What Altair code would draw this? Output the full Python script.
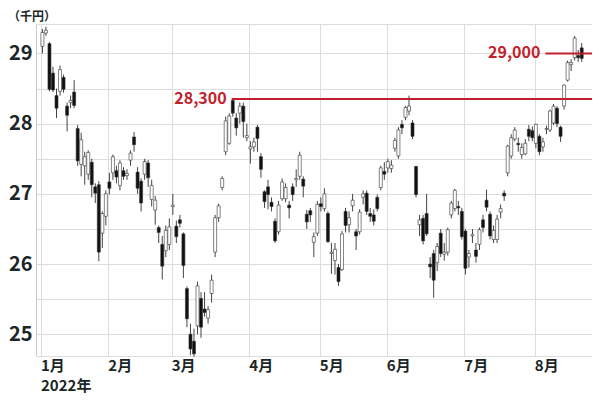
import altair as alt
import pandas as pd

# ---- candle data (thousand yen), one entry per trading day ----
opens = [29.10, 29.29, 29.14, 28.72, 28.40, 28.46, 28.66, 28.25, 28.30, 28.45,
         27.93, 27.42, 27.40, 27.28, 27.45, 27.10, 27.13, 26.44, 26.68, 27.17,
         27.30, 27.33, 27.12, 27.33, 27.26, 27.48, 27.81, 27.31, 27.18, 27.28,
         27.44, 26.92, 26.77, 26.52, 26.28, 26.19, 26.28, 26.82, 26.54, 26.63,
         26.43, 25.65, 25.00, 24.90, 25.12, 25.51, 25.36, 25.23, 25.58, 26.17,
         26.66, 27.09, 27.60, 27.72, 28.33, 28.08, 28.15, 28.25, 27.80, 27.64,
         27.67, 27.95, 27.53, 27.03, 27.10, 26.88, 26.61, 26.46, 26.93, 26.93,
         26.84, 27.10, 27.20, 27.25, 27.21, 26.71, 26.76, 26.31, 26.44, 26.86,
         26.79, 26.72, 26.15, 26.05, 25.95, 25.92, 26.75, 26.56, 26.83, 26.46,
         26.46, 26.95, 27.01, 26.72, 26.70, 26.95, 27.09, 27.32, 27.37, 27.36,
         27.65, 27.54, 27.99, 28.09, 28.18, 28.01, 27.39, 26.56, 26.65, 26.72,
         26.00, 26.15, 26.02, 26.44, 26.14, 26.17, 26.70, 26.79, 26.82, 26.75,
         26.47, 26.10, 26.40, 26.20, 26.28, 26.63, 26.91, 26.71, 26.35, 26.35,
         26.74, 27.01, 27.30, 27.54, 27.78, 27.72, 27.56, 27.57, 27.92, 27.90,
         27.72, 27.82, 27.67, 27.92, 27.91, 28.01, 28.22, 27.95, 28.25, 28.62,
         28.84, 28.94, 28.97, 29.08]
highs = [29.35, 29.38, 29.16, 28.81, 28.50, 28.83, 28.70, 28.30, 28.40, 28.62,
         27.98, 27.87, 27.60, 27.62, 27.50, 27.15, 27.18, 26.75, 27.05, 27.30,
         27.56, 27.40, 27.48, 27.38, 27.35, 27.62, 27.88, 27.38, 27.22, 27.50,
         27.48, 27.20, 26.97, 26.55, 26.40, 26.55, 26.65, 27.00, 26.62, 26.70,
         26.45, 25.68, 25.15, 25.08, 25.75, 25.60, 25.60, 25.40, 25.85, 26.70,
         26.86, 27.25, 28.10, 28.15, 28.36, 28.15, 28.30, 28.30, 28.00, 27.75,
         27.80, 27.98, 27.58, 27.05, 27.20, 26.95, 26.65, 26.90, 27.22, 27.15,
         26.90, 27.15, 27.35, 27.60, 27.25, 26.77, 26.80, 26.45, 26.90, 26.95,
         27.08, 26.75, 26.30, 26.30, 26.00, 26.47, 26.80, 26.75, 27.00, 26.50,
         26.78, 27.05, 27.05, 26.80, 26.78, 26.99, 27.40, 27.45, 27.50, 27.48,
         27.80, 27.95, 28.05, 28.25, 28.40, 28.05, 27.40, 26.70, 26.70, 27.00,
         26.10, 26.20, 26.30, 26.50, 26.30, 26.52, 26.90, 27.07, 26.90, 26.80,
         26.50, 26.20, 26.50, 26.30, 26.52, 26.70, 27.06, 26.75, 26.55, 26.70,
         26.85, 27.05, 27.70, 27.85, 27.95, 27.80, 27.72, 27.78, 27.98, 27.96,
         28.00, 27.85, 27.80, 27.97, 28.20, 28.28, 28.25, 27.97, 28.56, 28.90,
         28.92, 29.25, 29.05, 29.15]
lows = [29.00, 29.25, 28.46, 28.45, 28.08, 28.40, 28.44, 27.89, 28.22, 28.22,
        27.40, 27.25, 27.13, 27.20, 26.95, 26.87, 26.04, 26.23, 26.55, 26.99,
        27.20, 27.15, 27.05, 27.20, 27.20, 27.40, 27.60, 27.00, 26.75, 27.20,
        27.10, 26.82, 26.56, 26.30, 25.78, 26.10, 26.20, 26.70, 26.30, 26.52,
        25.80, 25.10, 24.70, 24.68, 25.00, 24.95, 25.25, 25.15, 25.45, 26.10,
        26.60, 27.05, 27.55, 27.70, 28.10, 27.83, 28.00, 27.80, 27.75, 27.43,
        27.60, 27.60, 27.23, 26.80, 26.78, 26.75, 26.30, 26.42, 26.90, 26.88,
        26.65, 26.90, 27.10, 27.20, 26.95, 26.50, 26.60, 26.10, 26.40, 26.75,
        26.75, 26.30, 25.86, 25.85, 25.69, 25.90, 26.45, 26.45, 26.75, 26.20,
        26.42, 26.85, 26.70, 26.60, 26.55, 26.75, 27.05, 27.20, 27.30, 27.30,
        27.60, 27.50, 27.85, 28.05, 28.12, 27.78, 26.95, 26.40, 26.28, 26.40,
        25.80, 25.52, 25.90, 26.10, 26.05, 26.12, 26.65, 26.75, 26.70, 26.35,
        25.85, 25.95, 26.30, 26.02, 26.20, 26.45, 26.75, 26.35, 26.30, 26.30,
        26.65, 26.90, 27.25, 27.50, 27.75, 27.60, 27.50, 27.55, 27.75, 27.75,
        27.65, 27.55, 27.60, 27.85, 27.88, 27.98, 27.95, 27.74, 28.20, 28.60,
        28.75, 28.90, 28.88, 28.88]
closes = [29.30, 29.33, 28.49, 28.48, 28.22, 28.77, 28.49, 28.12, 28.33, 28.26,
          27.47, 27.77, 27.53, 27.59, 27.13, 27.01, 26.17, 26.72, 27.00, 27.08,
          27.53, 27.24, 27.44, 27.25, 27.29, 27.58, 27.70, 27.08, 26.87, 27.46,
          27.23, 27.12, 26.91, 26.45, 25.97, 26.48, 26.53, 26.84, 26.39, 26.58,
          25.98, 25.22, 24.79, 24.72, 25.69, 25.10, 25.31, 25.35, 25.77, 26.66,
          26.83, 27.22, 28.04, 28.11, 28.15, 27.94, 28.25, 28.03, 27.83, 27.67,
          27.74, 27.79, 27.35, 26.89, 26.99, 26.82, 26.33, 26.84, 27.17, 27.09,
          26.80, 26.99, 27.22, 27.55, 27.11, 26.60, 26.70, 26.39, 26.85, 26.82,
          27.00, 26.32, 26.17, 26.21, 25.75, 26.43, 26.55, 26.66, 26.91, 26.40,
          26.74, 27.00, 26.75, 26.68, 26.61, 26.79, 27.37, 27.28, 27.46, 27.41,
          27.76, 27.91, 27.94, 28.23, 28.25, 27.82, 26.99, 26.63, 26.33, 26.43,
          25.96, 25.77, 26.25, 26.15, 26.17, 26.49, 26.87, 27.05, 26.80, 26.39,
          25.94, 26.15, 26.42, 26.11, 26.49, 26.52, 26.81, 26.40, 26.48, 26.64,
          26.79, 26.97, 27.68, 27.80, 27.91, 27.70, 27.66, 27.72, 27.82, 27.80,
          27.99, 27.60, 27.74, 27.93, 28.18, 28.25, 28.00, 27.82, 28.55, 28.87,
          28.87, 29.22, 28.94, 28.93]

# ---- axis / annotation data ----
month_names = ["1月", "2月", "3月", "4月", "5月", "6月", "7月", "8月"]
month_first_index = [0, 19, 37, 59, 79, 98, 120, 140]
year_label = "2022年"
y_ticks = [25, 25.5, 26, 26.5, 27, 27.5, 28, 28.5, 29]
level_values = [28.35, 29.0]
level_labels = ["28,300", "29,000"]
level_start_index = [53.7, 142.7]
unit_label = "（千円）"

FONT = "Noto Sans CJK JP"
RED = "#c3202b"
W, H = 556, 332

df = pd.DataFrame({"idx": list(range(len(opens))), "open": opens, "high": highs,
                   "low": lows, "close": closes})
grid_pos = [-0.4] + [m - 0.3 for m in month_first_index[1:]]
months_df = pd.DataFrame({"pos": grid_pos, "name": month_names})
year_df = pd.DataFrame({"pos": [grid_pos[0]], "name": [year_label]})
levels_df = pd.DataFrame({"value": level_values, "start": level_start_index,
                          "label": level_labels})
unit_df = pd.DataFrame({"t": [unit_label]})

xscale = alt.Scale(domain=[-0.4, 154.5], nice=False, zero=False)
yscale = alt.Scale(domain=[24.69, 29.42], nice=False, zero=False)
xaxis = alt.Axis(values=grid_pos, grid=True, labels=False, ticks=False, domain=False,
                 title=None, gridColor="#dddddd", gridWidth=1)
yaxis = alt.Axis(values=y_ticks, grid=True, ticks=False, domain=True, title=None,
                 domainColor="#cccccc", gridColor="#dddddd", gridWidth=1,
                 labelExpr="datum.value % 1 === 0 ? format(datum.value, 'd') : ''",
                 labelFont=FONT, labelFontSize=20, labelFontWeight="bold",
                 labelColor="#1b2626", labelPadding=4)

X = alt.X("idx:Q", scale=xscale, axis=xaxis)

wicks = alt.Chart(df).mark_rule(color="#444444", strokeWidth=1).encode(
    x=X, y=alt.Y("low:Q", scale=yscale, axis=yaxis), y2="high:Q")

bodies = alt.Chart(df).mark_bar(size=3, stroke="#333333", strokeWidth=0.6).encode(
    x=X, y=alt.Y("open:Q", scale=yscale, axis=yaxis), y2="close:Q",
    fill=alt.condition("datum.close >= datum.open", alt.value("white"), alt.value("#111111")))

level_lines = alt.Chart(levels_df).mark_rule(color=RED, strokeWidth=2).encode(
    x=alt.X("start:Q", scale=xscale, axis=xaxis), x2=alt.value(W),
    y=alt.Y("value:Q", scale=yscale, axis=yaxis))

level_text = alt.Chart(levels_df).mark_text(
    align="right", baseline="middle", dx=-5, font=FONT, fontSize=16,
    fontWeight="bold", color=RED).encode(
    x=alt.X("start:Q", scale=xscale, axis=xaxis),
    y=alt.Y("value:Q", scale=yscale, axis=yaxis), text="label:N")

month_text = alt.Chart(months_df).mark_text(
    align="left", baseline="top", font=FONT, fontSize=15, fontWeight="bold",
    color="#1b2626").encode(
    x=alt.X("pos:Q", scale=xscale, axis=xaxis), y=alt.value(H + 3), text="name:N")

year_text = alt.Chart(year_df).mark_text(
    align="left", baseline="top", font=FONT, fontSize=15, fontWeight="bold",
    color="#1b2626").encode(
    x=alt.X("pos:Q", scale=xscale, axis=xaxis), y=alt.value(H + 23), text="name:N")

unit_text = alt.Chart(unit_df).mark_text(
    align="left", baseline="alphabetic", font=FONT, fontSize=12, fontWeight="bold",
    color="#1b2626").encode(x=alt.value(-28), y=alt.value(-3), text="t:N")

chart = alt.layer(wicks, bodies, level_lines, level_text, month_text, year_text,
                  unit_text).properties(
    width=W, height=H,
    autosize=alt.AutoSizeParams(type="none"),
    padding={"left": 28, "top": 16, "right": 0, "bottom": 43},
).configure_view(stroke=None).configure(background="white")

chart.save("out.html", embed_options={"renderer": "svg", "actions": False})
